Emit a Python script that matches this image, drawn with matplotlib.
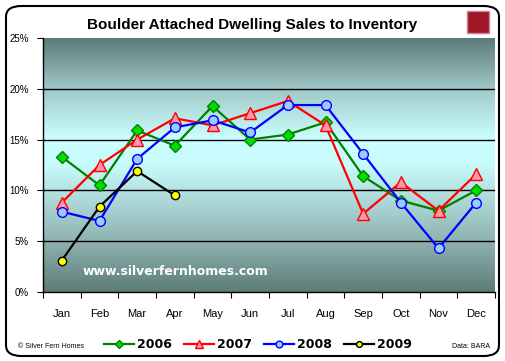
import numpy as np
import matplotlib.pyplot as plt
from matplotlib.patches import FancyBboxPatch, Rectangle
from matplotlib.colors import LinearSegmentedColormap

months = ['Jan', 'Feb', 'Mar', 'Apr', 'May', 'Jun', 'Jul', 'Aug', 'Sep', 'Oct', 'Nov', 'Dec']
s2006 = [13.3, 10.5, 15.9, 14.4, 18.3, 15.0, 15.5, 16.7, 11.4, 9.0, 8.0, 10.0]
s2007 = [8.8, 12.5, 15.0, 17.1, 16.4, 17.6, 18.8, 16.4, 7.7, 10.8, 8.0, 11.6]
s2008 = [7.9, 7.0, 13.1, 16.2, 16.9, 15.7, 18.4, 18.4, 13.6, 8.8, 4.3, 8.8]
s2009 = [3.1, 8.4, 11.9, 9.5]
yticks = [0, 5, 10, 15, 20, 25]

fig = plt.figure(figsize=(5.05, 3.61), dpi=100)
fig.patch.set_facecolor('white')

# rounded frame
frame = FancyBboxPatch((6 / 505, 5 / 361), 493 / 505, 350 / 361,
                       boxstyle='round,pad=0,rounding_size=0.03',
                       transform=fig.transFigure, fill=False,
                       edgecolor='black', linewidth=1.5)
fig.patches.append(frame)

ax = fig.add_axes([43 / 505, 69 / 361, 452 / 505, 254 / 361])

# gradient background
cmap = LinearSegmentedColormap.from_list('bg', [
    (0.0, '#5e7c78'), (0.2, '#8fb3b1'), (0.5, '#c8fbfb'), (0.6, '#ccffff'),
    (0.8, '#9fc8c8'), (1.0, '#5c7a77')])
grad = np.linspace(0, 1, 256).reshape(-1, 1)
ax.imshow(grad, aspect='auto', cmap=cmap, extent=[0, 12, 0, 25],
          origin='lower', zorder=0)

x = np.arange(len(months)) + 0.5
ax.plot(x, s2006, color='#008000', lw=1.6, marker='D', ms=6,
        mfc='#00dd00', mec='#008000', label='2006', zorder=3)
ax.plot(x, s2007, color='#ff0000', lw=1.6, marker='^', ms=8,
        mfc='#ff99aa', mec='#ff0000', label='2007', zorder=3)
ax.plot(x, s2008, color='#0000ff', lw=1.6, marker='o', ms=7,
        mfc='#99ccff', mec='#0000ff', label='2008', zorder=3)
ax.plot(x[:len(s2009)], s2009, color='black', lw=1.6, marker='o', ms=6,
        mfc='#ffff00', mec='black', label='2009', zorder=3)

ax.set_xlim(0, 12)
ax.set_ylim(0, 25)
ax.set_yticks(yticks)
ax.set_yticklabels([f'{v}%' for v in yticks], fontsize=7, family='Liberation Sans')
for v in yticks[1:-1]:
    ax.axhline(v, color='black', lw=1, zorder=1)

ax.set_xticks(np.arange(13))
ax.set_xticklabels([])
ax.set_xticks(x, minor=True)
ax.set_xticklabels(months, minor=True, fontsize=8, family='Liberation Sans')
ax.tick_params(axis='x', which='minor', length=0, pad=12)
ax.tick_params(axis='x', which='major', length=4, direction='out')
ax.tick_params(axis='y', length=4, direction='out', pad=6)

ax.spines['top'].set_visible(False)
ax.spines['right'].set_visible(False)
ax.spines['left'].set_linewidth(1)
ax.spines['bottom'].set_linewidth(1)

ax.text(1.05, 1.7, 'www.silverfernhomes.com', color='white', fontsize=9,
        fontweight='bold', family='DejaVu Sans', zorder=4)

fig.text(252 / 505, 1 - 25 / 361, 'Boulder Attached Dwelling Sales to Inventory',
         ha='center', va='center', fontsize=11, fontweight='bold',
         family='Liberation Sans')

# logo
logo = Rectangle((467 / 505, 1 - 33 / 361), 22 / 505, 22 / 361,
                 transform=fig.transFigure, facecolor='#a01828',
                 edgecolor='#d08090', linewidth=1)
fig.patches.append(logo)

leg = fig.legend(loc='center', bbox_to_anchor=(258 / 505, 1 - 345 / 361), ncol=4,
                 frameon=False, prop={'weight': 'bold', 'size': 9},
                 markerscale=0.7, handlelength=2.4, columnspacing=1.0,
                 handletextpad=0.2)

fig.text(18 / 505, 1 - 346 / 361, '\u00a9 Silver Fern Homes', fontsize=5,
         va='center', family='Liberation Sans')
fig.text(490 / 505, 1 - 347 / 361, 'Data: BARA', fontsize=5, ha='right',
         va='center', family='Liberation Sans')

fig.savefig('out.png', dpi=100)
